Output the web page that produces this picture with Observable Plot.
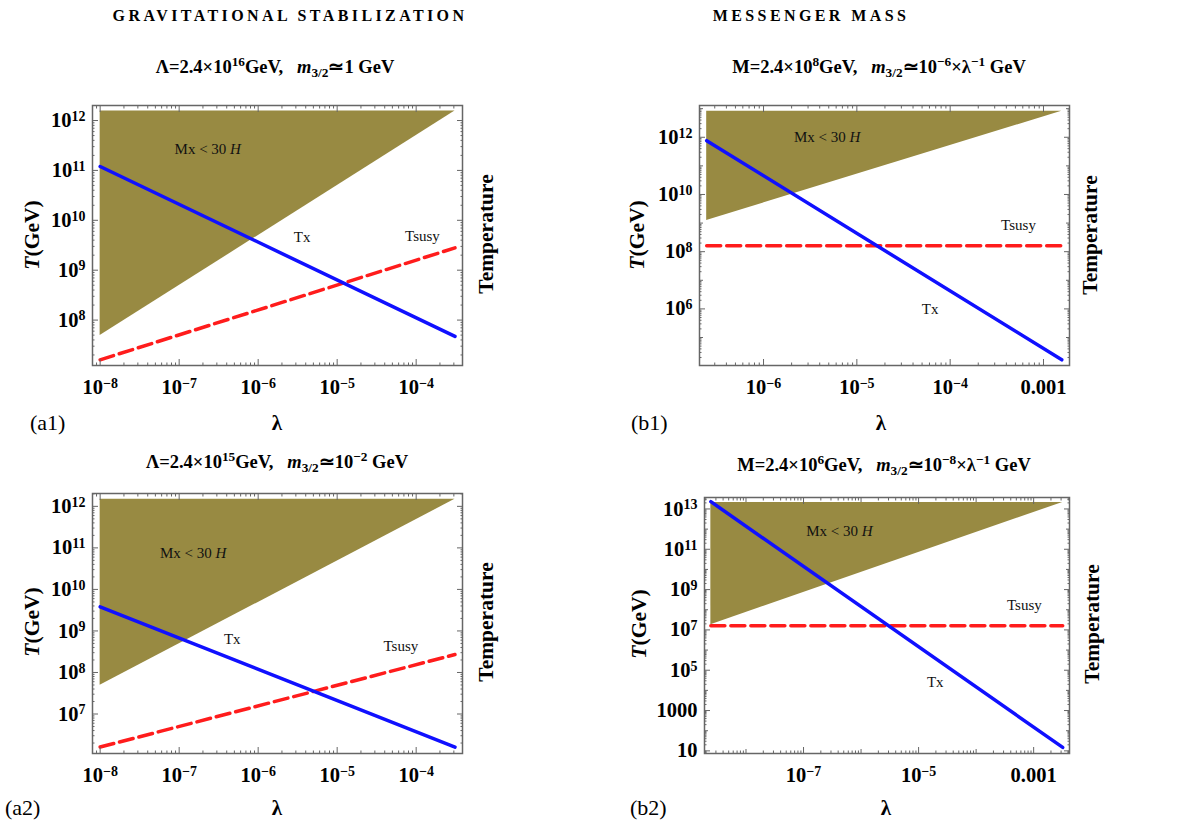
<!DOCTYPE html>
<html><head><meta charset="utf-8">
<script src="https://cdn.jsdelivr.net/npm/d3@7"></script>
<script src="https://cdn.jsdelivr.net/npm/@observablehq/plot@0.6"></script>
<style>
body{margin:0;background:#fff;}
#root{position:relative;width:1186px;height:828px;font-family:"Liberation Serif","Times New Roman",serif;color:#000;overflow:hidden;background:#fff}
.abs{position:absolute;white-space:nowrap;line-height:1}
.hdr{font-weight:bold;font-size:16px;letter-spacing:3.4px;transform:translate(-50%,-50%)}
.ttl{font-weight:bold;font-size:18.5px;transform:translate(-50%,-50%)}
.ttl sup{font-size:0.72em;vertical-align:0.5em;line-height:0}
.ttl sub{font-size:0.72em;vertical-align:-0.3em;line-height:0}
.ylab{font-weight:bold;font-size:21.5px;transform:translate(-50%,-50%) rotate(-90deg)}
.xlab{font-weight:bold;font-size:21px;transform:translate(-50%,-50%)}
.plab{font-size:22px;transform:translate(0,-50%)}
.plot{position:absolute}
</style></head>
<body><div id="root"></div>
<script>
// ---------- Panel (a1): Λ=2.4×10^16 GeV ----------
const a1_lambda = [1e-8, 3.1e-4];
const a1_Tx = [1.2e11, 4.7e7];
const a1_Tsusy = [1.6e7, 2.8e9];
const a1_shadeLambda = [1e-8, 3.1e-4];
const a1_shadeLow = [4.9e7, 1.55e12];
const a1_shadeHigh = [1.55e12, 1.55e12];
const a1_labelText = ["Mx < 30 H", "Tx", "Tsusy"];
const a1_labelX = [2.3e-7, 3.6e-6, 1.2e-4];
const a1_labelY = [2.7e11, 4.6e9, 4.9e9];
const a1_xTicks = [1e-8, 1e-7, 1e-6, 1e-5, 1e-4];
const a1_xTickLabels = ["10^−8", "10^−7", "10^−6", "10^−5", "10^−4"];
const a1_yTicks = [1e8, 1e9, 1e10, 1e11, 1e12];
const a1_yTickLabels = ["10^8", "10^9", "10^10", "10^11", "10^12"];
const a1_xDomain = [8.0e-9, 3.86e-4];
const a1_yDomain = [1.23e7, 2.0e12];

// ---------- Panel (a2): Λ=2.4×10^15 GeV ----------
const a2_lambda = [1e-8, 3.1e-4];
const a2_Tx = [3.8e9, 1.6e6];
const a2_Tsusy = [1.6e6, 2.7e8];
const a2_shadeLambda = [1e-8, 3.1e-4];
const a2_shadeLow = [4.9e7, 1.48e12];
const a2_shadeHigh = [1.48e12, 1.48e12];
const a2_labelText = ["Mx < 30 H", "Tx", "Tsusy"];
const a2_labelX = [1.5e-7, 4.7e-7, 6.4e-5];
const a2_labelY = [7.6e10, 6.5e8, 4.3e8];
const a2_xTicks = [1e-8, 1e-7, 1e-6, 1e-5, 1e-4];
const a2_xTickLabels = ["10^−8", "10^−7", "10^−6", "10^−5", "10^−4"];
const a2_yTicks = [1e7, 1e8, 1e9, 1e10, 1e11, 1e12];
const a2_yTickLabels = ["10^7", "10^8", "10^9", "10^10", "10^11", "10^12"];
const a2_xDomain = [8.0e-9, 3.86e-4];
const a2_yDomain = [1.12e6, 2.04e12];

// ---------- Panel (b1): M=2.4×10^8 GeV ----------
const b1_lambda = [2.46e-7, 1.57e-3];
const b1_Tx = [7.6e11, 1.66e4];
const b1_Tsusy = [1.6e8, 1.6e8];
const b1_shadeLambda = [2.46e-7, 1.57e-3];
const b1_shadeLow = [1.23e9, 8.1e12];
const b1_shadeHigh = [8.1e12, 8.1e12];
const b1_labelText = ["Mx < 30 H", "Tsusy", "Tx"];
const b1_labelX = [4.8e-6, 5.4e-4, 6.1e-5];
const b1_labelY = [1.0e12, 8.2e8, 1.0e6];
const b1_xTicks = [1e-6, 1e-5, 1e-4, 1e-3];
const b1_xTickLabels = ["10^−6", "10^−5", "10^−4", "0.001"];
const b1_yTicks = [1e6, 1e8, 1e10, 1e12];
const b1_yTickLabels = ["10^6", "10^8", "10^10", "10^12"];
const b1_xDomain = [2.06e-7, 1.9e-3];
const b1_yDomain = [1.05e4, 1.29e13];

// ---------- Panel (b2): M=2.4×10^6 GeV ----------
const b2_lambda = [2.45e-9, 3.2e-3];
const b2_Tx = [2.3e13, 14.8];
const b2_Tsusy = [1.6e7, 1.6e7];
const b2_shadeLambda = [2.45e-9, 3.2e-3];
const b2_shadeLow = [1.8e7, 2.1e13];
const b2_shadeHigh = [2.1e13, 2.1e13];
const b2_labelText = ["Mx < 30 H", "Tsusy", "Tx"];
const b2_labelX = [4.2e-7, 6.9e-4, 1.95e-5];
const b2_labelY = [7.7e11, 1.6e8, 2.6e4];
const b2_xTicks = [1e-7, 1e-5, 1e-3];
const b2_xTickLabels = ["10^−7", "10^−5", "0.001"];
const b2_yTicks = [10, 1000, 1e5, 1e7, 1e9, 1e11, 1e13];
const b2_yTickLabels = ["10", "1000", "10^5", "10^7", "10^9", "10^11", "10^13"];
const b2_xDomain = [1.9e-9, 4.2e-3];
const b2_yDomain = [7.4, 3.7e13];

const OLIVE = "#988a42", BLUE = "#1010ff", RED = "#ff1c1c", FRAME = "#666";
const TICK_FONT = "20.5px";

function tickSets(domain, majors) {
  const med = [], minor = [];
  const lo = Math.floor(Math.log10(domain[0])), hi = Math.ceil(Math.log10(domain[1]));
  for (let k = lo; k <= hi; k++) for (let m = 1; m <= 9; m++) {
    const v = m * Math.pow(10, k);
    if (v < domain[0] || v > domain[1]) continue;
    if (majors.some(t => Math.abs(t / v - 1) < 1e-9)) continue;
    (m === 1 ? med : minor).push(v);
  }
  return {med, minor};
}
function fmt(ticks, labels) {
  const m = new Map(ticks.map((t, i) => [t, labels[i]]));
  return d => m.has(d) ? m.get(d) : "";
}

const panels = [
  {id:"a1", left:0, top:90, w:593, h:310, ml:92, mr:131, mt:15, mb:35,
   lambda:a1_lambda, Tx:a1_Tx, Tsusy:a1_Tsusy, sx:a1_shadeLambda, sl:a1_shadeLow, sh:a1_shadeHigh,
   lt:a1_labelText, lx:a1_labelX, ly:a1_labelY, xt:a1_xTicks, xl:a1_xTickLabels, yt:a1_yTicks, yl:a1_yTickLabels,
   xd:a1_xDomain, yd:a1_yDomain},
  {id:"a2", left:0, top:478, w:593, h:310, ml:92, mr:131, mt:15, mb:35,
   lambda:a2_lambda, Tx:a2_Tx, Tsusy:a2_Tsusy, sx:a2_shadeLambda, sl:a2_shadeLow, sh:a2_shadeHigh,
   lt:a2_labelText, lx:a2_labelX, ly:a2_labelY, xt:a2_xTicks, xl:a2_xTickLabels, yt:a2_yTicks, yl:a2_yTickLabels,
   xd:a2_xDomain, yd:a2_yDomain},
  {id:"b1", left:593, top:90, w:593, h:310, ml:106, mr:117, mt:15, mb:35,
   lambda:b1_lambda, Tx:b1_Tx, Tsusy:b1_Tsusy, sx:b1_shadeLambda, sl:b1_shadeLow, sh:b1_shadeHigh,
   lt:b1_labelText, lx:b1_labelX, ly:b1_labelY, xt:b1_xTicks, xl:b1_xTickLabels, yt:b1_yTicks, yl:b1_yTickLabels,
   xd:b1_xDomain, yd:b1_yDomain},
  {id:"b2", left:593, top:478, w:593, h:310, ml:111, mr:117, mt:19, mb:35,
   lambda:b2_lambda, Tx:b2_Tx, Tsusy:b2_Tsusy, sx:b2_shadeLambda, sl:b2_shadeLow, sh:b2_shadeHigh,
   lt:b2_labelText, lx:b2_labelX, ly:b2_labelY, xt:b2_xTicks, xl:b2_xTickLabels, yt:b2_yTicks, yl:b2_yTickLabels,
   xd:b2_xDomain, yd:b2_yDomain}
];

const root = document.getElementById("root");

function supify(svg) {
  svg.querySelectorAll('g[aria-label="x-axis tick label"], g[aria-label="y-axis tick label"]').forEach(g => {
    g.setAttribute("font-size", TICK_FONT);
    g.style.fontSize = TICK_FONT;
    g.style.fontWeight = "bold";
    g.style.fontFamily = "'Liberation Serif', serif";
  });
  svg.querySelectorAll('g[aria-label="x-axis tick label"] text, g[aria-label="y-axis tick label"] text').forEach(t => {
    t.style.fontSize = TICK_FONT;
    t.style.fontWeight = "bold";
    const s = t.textContent;
    const i = s.indexOf("^");
    if (i < 0) return;
    t.textContent = s.slice(0, i);
    const ts = document.createElementNS("http://www.w3.org/2000/svg", "tspan");
    ts.setAttribute("dy", "-0.45em");
    ts.style.fontSize = "0.68em";
    ts.textContent = s.slice(i + 1);
    t.appendChild(ts);
  });
  svg.querySelectorAll('g[aria-label="text"] text').forEach(t => {
    const s = t.textContent;
    if (s.endsWith(" H")) {
      t.textContent = s.slice(0, -1);
      const ts = document.createElementNS("http://www.w3.org/2000/svg", "tspan");
      ts.setAttribute("font-style", "italic");
      ts.textContent = "H";
      t.appendChild(ts);
    }
  });
}

for (const p of panels) {
  const tx = p.lambda.map((x, i) => ({x, y: p.Tx[i]}));
  const ts = p.lambda.map((x, i) => ({x, y: p.Tsusy[i]}));
  const shade = p.sx.map((x, i) => ({x, y1: p.sl[i], y2: p.sh[i]}));
  const labels = p.lt.map((t, i) => ({t, x: p.lx[i], y: p.ly[i]}));
  const X = tickSets(p.xd, p.xt), Y = tickSets(p.yd, p.yt);
  const common = {stroke: FRAME, strokeWidth: 1, label: null};
  const svg = Plot.plot({
    width: p.w, height: p.h,
    marginLeft: p.ml, marginRight: p.mr, marginTop: p.mt, marginBottom: p.mb,
    x: {type: "log", domain: p.xd},
    y: {type: "log", domain: p.yd},
    style: {fontFamily: "'Liberation Serif', serif", fontSize: "20px", background: "transparent", overflow: "visible", color: "#000"},
    marks: [
      Plot.areaY(shade, {x: "x", y1: "y1", y2: "y2", fill: OLIVE}),
      Plot.line(ts, {x: "x", y: "y", stroke: RED, strokeWidth: 3.5, strokeDasharray: "14,6"}),
      Plot.line(tx, {x: "x", y: "y", stroke: BLUE, strokeWidth: 3.5}),
      Plot.text(labels, {x: "x", y: "y", text: "t", fontSize: 15, fontWeight: "normal", fill: "#111"}),
      Plot.frame({stroke: FRAME, strokeWidth: 1.5}),
      Plot.axisX(p.xt, {...common, anchor: "bottom", tickSize: -6, tickPadding: 20, tickFormat: fmt(p.xt, p.xl), fill: "#000", fontSize: 20.5, fontWeight: "bold"}),
      Plot.axisX(p.xt, {...common, anchor: "top", tickSize: -6, fill: "none"}),
      Plot.axisX(X.med, {...common, anchor: "bottom", tickSize: -4, fill: "none"}),
      Plot.axisX(X.med, {...common, anchor: "top", tickSize: -4, fill: "none"}),
      Plot.axisX(X.minor, {...common, anchor: "bottom", tickSize: -2.5, fill: "none"}),
      Plot.axisX(X.minor, {...common, anchor: "top", tickSize: -2.5, fill: "none"}),
      Plot.axisY(p.yt, {...common, anchor: "left", tickSize: -6, tickPadding: 13, tickFormat: fmt(p.yt, p.yl), fill: "#000", fontSize: 20.5, fontWeight: "bold"}),
      Plot.axisY(p.yt, {...common, anchor: "right", tickSize: -6, fill: "none"}),
      Plot.axisY(Y.med, {...common, anchor: "left", tickSize: -4, fill: "none"}),
      Plot.axisY(Y.med, {...common, anchor: "right", tickSize: -4, fill: "none"}),
      Plot.axisY(Y.minor, {...common, anchor: "left", tickSize: -2.5, fill: "none"}),
      Plot.axisY(Y.minor, {...common, anchor: "right", tickSize: -2.5, fill: "none"})
    ]
  });
  supify(svg);
  const wrap = document.createElement("div");
  wrap.className = "plot";
  wrap.style.left = p.left + "px";
  wrap.style.top = p.top + "px";
  wrap.appendChild(svg);
  root.appendChild(wrap);
}

// ---------- text around the panels ----------
const headers = [["GRAVITATIONAL STABILIZATION", 290, 16], ["MESSENGER MASS", 811, 16]];
const titles = [
  ["Λ=2.4×10<sup>16</sup>GeV,&nbsp;&nbsp; <i>m</i><sub>3/2</sub>≃1 GeV", 275, 67],
  ["M=2.4×10<sup>8</sup>GeV,&nbsp;&nbsp; <i>m</i><sub>3/2</sub>≃10<sup>−6</sup>×λ<sup>−1</sup> GeV", 879, 67],
  ["Λ=2.4×10<sup>15</sup>GeV,&nbsp;&nbsp; <i>m</i><sub>3/2</sub>≃10<sup>−2</sup> GeV", 277, 462],
  ["M=2.4×10<sup>6</sup>GeV,&nbsp;&nbsp; <i>m</i><sub>3/2</sub>≃10<sup>−8</sup>×λ<sup>−1</sup> GeV", 884, 465]
];
const yLabels = [[33, 235], [638, 235], [33, 622], [640, 624]];
const rightLabels = [[487, 234], [1091, 235], [487, 622], [1093, 624]];
const xLabels = [[277, 423], [881, 423], [277, 808], [886, 808]];
const panelTags = [["(a1)", 30, 423], ["(b1)", 631, 423], ["(a2)", 5, 808], ["(b2)", 630, 808]];

function add(cls, html, x, y) {
  const d = document.createElement("div");
  d.className = "abs " + cls;
  d.style.left = x + "px";
  d.style.top = y + "px";
  d.innerHTML = html;
  root.appendChild(d);
}
headers.forEach(([t, x, y]) => add("hdr", t, x, y));
titles.forEach(([t, x, y]) => add("ttl", t, x, y));
yLabels.forEach(([x, y]) => add("ylab", "<i>T</i>(GeV)", x, y));
rightLabels.forEach(([x, y]) => add("ylab", "Temperature", x, y));
xLabels.forEach(([x, y]) => add("xlab", "λ", x, y));
panelTags.forEach(([t, x, y]) => add("plab", t, x, y));
</script>
</body></html>
